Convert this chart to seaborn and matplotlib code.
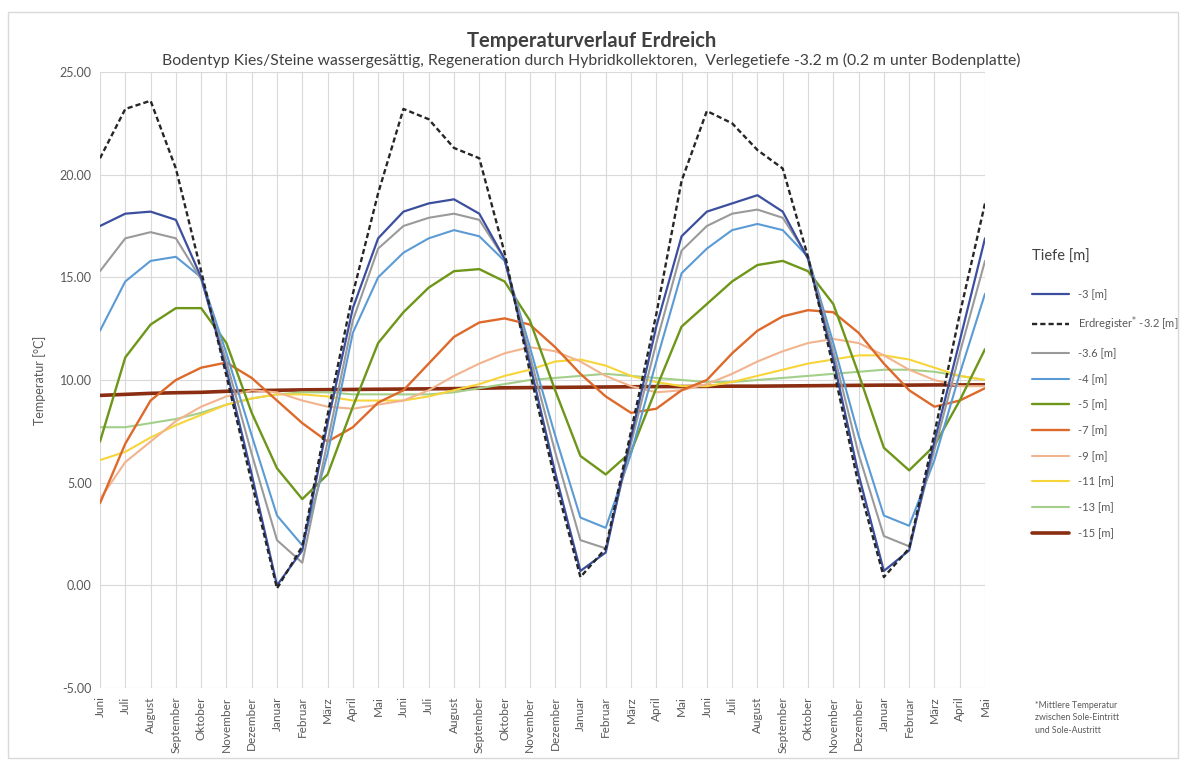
import matplotlib
matplotlib.use("Agg")
import matplotlib.pyplot as plt
import seaborn as sns
import pandas as pd
from matplotlib.patches import Rectangle

months = ["Juni", "Juli", "August", "September", "Oktober", "November", "Dezember",
          "Januar", "Februar", "März", "April", "Mai"] * 3

t_3 = [17.5, 18.1, 18.2, 17.8, 15.0, 10.5, 5.4, 0.0, 1.7, 7.9, 13.5, 16.9,
       18.2, 18.6, 18.8, 18.1, 15.9, 10.8, 5.5, 0.7, 1.6, 7.2, 12.6, 17.0,
       18.2, 18.6, 19.0, 18.2, 15.9, 11.0, 5.4, 0.7, 1.7, 7.0, 11.9, 16.9]
t_reg = [20.8, 23.2, 23.6, 20.3, 15.3, 10.2, 5.0, -0.15, 1.9, 8.3, 14.2, 19.1,
         23.2, 22.7, 21.3, 20.8, 16.2, 10.4, 5.1, 0.4, 1.8, 7.5, 13.2, 19.7,
         23.1, 22.5, 21.2, 20.3, 16.0, 10.6, 4.9, 0.4, 1.8, 7.4, 13.2, 18.6]
t_36 = [15.3, 16.9, 17.2, 16.9, 14.9, 10.9, 6.4, 2.2, 1.1, 7.0, 12.9, 16.4,
        17.5, 17.9, 18.1, 17.8, 15.9, 11.2, 6.5, 2.2, 1.8, 6.9, 11.8, 16.3,
        17.5, 18.1, 18.3, 17.9, 16.0, 11.4, 6.4, 2.4, 1.9, 6.6, 11.3, 15.8]
t_4 = [12.4, 14.8, 15.8, 16.0, 15.0, 11.3, 7.3, 3.4, 1.95, 6.4, 12.3, 15.0,
       16.2, 16.9, 17.3, 17.0, 15.8, 11.6, 7.3, 3.3, 2.8, 6.4, 10.9, 15.2,
       16.4, 17.3, 17.6, 17.3, 16.0, 11.8, 7.3, 3.4, 2.9, 6.1, 10.3, 14.2]
t_5 = [7.0, 11.1, 12.7, 13.5, 13.5, 11.8, 8.4, 5.7, 4.2, 5.4, 8.7, 11.8,
       13.3, 14.5, 15.3, 15.4, 14.8, 12.9, 9.5, 6.3, 5.4, 6.5, 9.6, 12.6,
       13.7, 14.8, 15.6, 15.8, 15.3, 13.7, 10.3, 6.7, 5.6, 6.8, 9.0, 11.5]
t_7 = [4.0, 6.9, 9.0, 10.0, 10.6, 10.85, 10.1, 9.0, 7.9, 7.0, 7.7, 8.9,
       9.5, 10.8, 12.1, 12.8, 13.0, 12.7, 11.6, 10.3, 9.2, 8.4, 8.6, 9.5,
       10.0, 11.3, 12.4, 13.1, 13.4, 13.3, 12.3, 10.8, 9.5, 8.7, 9.0, 9.6]
t_9 = [4.2, 6.0, 7.0, 8.0, 8.7, 9.2, 9.5, 9.4, 9.0, 8.7, 8.6, 8.8,
       9.0, 9.5, 10.2, 10.8, 11.3, 11.6, 11.4, 10.9, 10.2, 9.7, 9.4, 9.5,
       9.8, 10.3, 10.9, 11.4, 11.8, 12.0, 11.8, 11.2, 10.5, 10.0, 9.7, 9.7]
t_11 = [6.1, 6.5, 7.2, 7.8, 8.3, 8.8, 9.1, 9.3, 9.3, 9.2, 9.0, 9.0,
        9.0, 9.2, 9.5, 9.8, 10.2, 10.5, 10.9, 11.0, 10.7, 10.2, 9.9, 9.7,
        9.7, 9.9, 10.2, 10.5, 10.8, 11.0, 11.2, 11.2, 11.0, 10.6, 10.2, 10.0]
t_13 = [7.7, 7.7, 7.9, 8.1, 8.4, 8.8, 9.1, 9.3, 9.4, 9.4, 9.3, 9.3,
        9.3, 9.3, 9.4, 9.6, 9.8, 10.0, 10.1, 10.2, 10.3, 10.2, 10.1, 10.0,
        9.9, 9.9, 10.0, 10.1, 10.2, 10.3, 10.4, 10.5, 10.5, 10.4, 10.2, 10.0]
t_15 = [9.25, 9.3, 9.35, 9.38, 9.4, 9.45, 9.48, 9.5, 9.52, 9.53, 9.54, 9.55,
        9.56, 9.57, 9.58, 9.6, 9.62, 9.63, 9.64, 9.65, 9.66, 9.67, 9.68, 9.68,
        9.69, 9.7, 9.7, 9.71, 9.72, 9.73, 9.74, 9.75, 9.75, 9.76, 9.76, 9.77]

labels = ["-3 [m]", "Erdregister$^{*}$ -3.2 [m]", "-3.6 [m]", "-4 [m]", "-5 [m]",
          "-7 [m]", "-9 [m]", "-11 [m]", "-13 [m]", "-15 [m]"]
series = [t_3, t_reg, t_36, t_4, t_5, t_7, t_9, t_11, t_13, t_15]
colors = ["#3b4f9e", "#262626", "#9a9a9a", "#5b9bd5", "#6e9619",
          "#dd6a2b", "#f2b48e", "#f7d53a", "#a3cf8a", "#8a2d10"]
widths = [1.6, 1.7, 1.5, 1.5, 1.7, 1.7, 1.5, 1.5, 1.5, 2.6]
styles = ["-", (0, (2.2, 1.3)), "-", "-", "-", "-", "-", "-", "-", "-"]

sns.set_theme(style="white")
plt.rcParams["font.family"] = ["Lato", "DejaVu Sans"]

fig = plt.figure(figsize=(11.83, 7.67), dpi=100)
ax = fig.add_axes([100 / 1183, 1 - 688 / 767, 885 / 1183, 616 / 767])

idx = list(range(len(months)))
draw_order = [9, 8, 7, 6, 5, 4, 3, 2, 0, 1]
for k in draw_order:
    df = pd.DataFrame({"x": idx, "y": series[k]})
    sns.lineplot(data=df, x="x", y="y", ax=ax, color=colors[k], linewidth=widths[k],
                 linestyle=styles[k], label=labels[k], zorder=3 + (k == 1))

ax.set_xlim(0, len(months) - 1)
ax.set_ylim(-5, 25)
ax.set_yticks([-5, 0, 5, 10, 15, 20, 25])
ax.set_yticklabels([f"{v:.2f}" for v in [-5, 0, 5, 10, 15, 20, 25]], fontsize=9, color="#595959")
ax.set_xticks(idx)
ax.set_xticklabels(months, rotation=90, fontsize=8.5, color="#595959")
ax.tick_params(axis="both", length=0, pad=6)
ax.grid(True, color="#d9d9d9", linewidth=0.8)
ax.set_axisbelow(True)
for s in ax.spines.values():
    s.set_visible(False)
ax.set_xlabel("")
ax.set_ylabel("Temperatur [°C]", fontsize=9, color="#595959", labelpad=10)

handles, labs = ax.get_legend_handles_labels()
order_map = {l: h for h, l in zip(handles, labs)}
leg = ax.legend([order_map[l] for l in labels], labels, loc="upper left",
                bbox_to_anchor=(1022 / 1183, 1 - 240 / 767), bbox_transform=fig.transFigure,
                frameon=False, fontsize=8, labelspacing=1.32, handlelength=3.3,
                title="Tiefe [m]", title_fontsize=10.5, alignment="left")
for t in leg.get_texts():
    t.set_color("#595959")
leg.get_title().set_color("#404040")
leg._legend_box.sep = 18

fig.text(0.5, 1 - 41 / 767, "Temperaturverlauf Erdreich", ha="center", va="center",
         fontsize=14.5, fontweight="bold", color="#404040")
fig.text(0.5, 1 - 60 / 767,
         "Bodentyp Kies/Steine wassergesättig, Regeneration durch Hybridkollektoren,  Verlegetiefe -3.2 m (0.2 m unter Bodenplatte)",
         ha="center", va="center", fontsize=11.3, color="#404040")
fig.text(1035 / 1183, 1 - 718 / 767,
         "*Mittlere Temperatur\nzwischen Sole-Eintritt\nund Sole-Austritt",
         ha="left", va="center", fontsize=6.3, color="#595959", linespacing=1.5)

fig.patches.append(Rectangle((8 / 1183, 1 - 758 / 767), 1170 / 1183, 746 / 767,
                             transform=fig.transFigure, fill=False,
                             edgecolor="#d9d9d9", linewidth=1.0))

fig.savefig("out.png", dpi=100)
